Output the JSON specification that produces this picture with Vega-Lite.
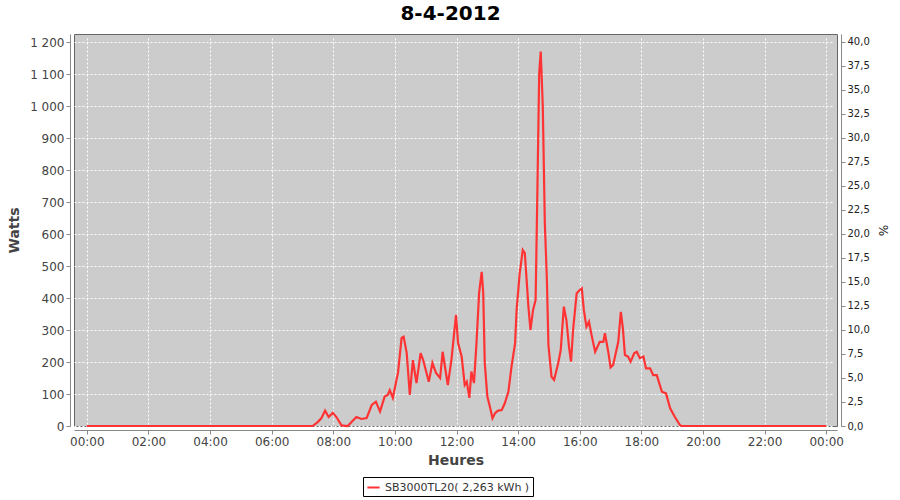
{
  "$schema": "https://vega.github.io/schema/vega-lite/v6.json",
  "autosize": {"type": "none"},
  "width": 763,
  "height": 392,
  "padding": {"left": 74, "top": 34, "right": 63, "bottom": 74},
  "background": "white",
  "title": {
    "text": "8-4-2012",
    "font": "DejaVu Sans",
    "fontSize": 20,
    "fontWeight": "bold",
    "color": "#000000",
    "anchor": "middle",
    "offset": 10,
    "dx": -5
  },
  "config": {
    "font": "DejaVu Sans",
    "view": {"fill": "#CCCCCC", "stroke": "#666666", "strokeWidth": 1},
    "axis": {
      "labelFont": "DejaVu Sans",
      "labelFontSize": 12,
      "labelColor": "#444444",
      "titleFont": "DejaVu Sans",
      "titleFontSize": 14,
      "titleFontWeight": "bold",
      "titleColor": "#444444",
      "domainColor": "#888888",
      "tickColor": "#888888",
      "tickSize": 4,
      "labelPadding": 2,
      "gridColor": "#FFFFFF",
      "gridDash": [2, 2],
      "gridWidth": 1,
      "offset": 4
    }
  },
  "layer": [
    {
      "data": {
        "values": [
          {"m": 0, "w": 0}, {"m": 440, "w": 0}, {"m": 450, "w": 13}, {"m": 457, "w": 25},
          {"m": 464, "w": 48}, {"m": 471, "w": 28}, {"m": 479, "w": 41}, {"m": 486, "w": 28},
          {"m": 496, "w": 2}, {"m": 508, "w": 0}, {"m": 516, "w": 13}, {"m": 525, "w": 28},
          {"m": 535, "w": 22}, {"m": 545, "w": 25}, {"m": 555, "w": 66}, {"m": 563, "w": 76},
          {"m": 571, "w": 45}, {"m": 580, "w": 92}, {"m": 586, "w": 97}, {"m": 590, "w": 112},
          {"m": 596, "w": 88}, {"m": 603, "w": 144}, {"m": 606, "w": 166}, {"m": 613, "w": 275},
          {"m": 617, "w": 279}, {"m": 623, "w": 228}, {"m": 629, "w": 97}, {"m": 635, "w": 206},
          {"m": 642, "w": 134}, {"m": 650, "w": 228}, {"m": 655, "w": 206}, {"m": 666, "w": 138},
          {"m": 673, "w": 197}, {"m": 680, "w": 166}, {"m": 688, "w": 150}, {"m": 693, "w": 232},
          {"m": 703, "w": 128}, {"m": 710, "w": 206}, {"m": 719, "w": 347}, {"m": 723, "w": 259},
          {"m": 730, "w": 217}, {"m": 736, "w": 128}, {"m": 740, "w": 138}, {"m": 745, "w": 88},
          {"m": 749, "w": 170}, {"m": 754, "w": 134}, {"m": 759, "w": 263}, {"m": 764, "w": 416},
          {"m": 769, "w": 482}, {"m": 772, "w": 416}, {"m": 775, "w": 197}, {"m": 780, "w": 92},
          {"m": 785, "w": 60}, {"m": 790, "w": 24}, {"m": 795, "w": 40}, {"m": 801, "w": 48},
          {"m": 808, "w": 50}, {"m": 814, "w": 71}, {"m": 821, "w": 107}, {"m": 827, "w": 185},
          {"m": 834, "w": 258}, {"m": 837, "w": 362}, {"m": 843, "w": 477}, {"m": 849, "w": 550},
          {"m": 853, "w": 540}, {"m": 860, "w": 373}, {"m": 864, "w": 300}, {"m": 869, "w": 362},
          {"m": 874, "w": 394}, {"m": 877, "w": 685}, {"m": 881, "w": 1102}, {"m": 884, "w": 1170},
          {"m": 888, "w": 998}, {"m": 892, "w": 633}, {"m": 896, "w": 456}, {"m": 899, "w": 253},
          {"m": 905, "w": 154}, {"m": 910, "w": 144}, {"m": 918, "w": 196}, {"m": 923, "w": 238},
          {"m": 929, "w": 373}, {"m": 934, "w": 331}, {"m": 939, "w": 248}, {"m": 943, "w": 201},
          {"m": 947, "w": 300}, {"m": 954, "w": 415}, {"m": 960, "w": 425}, {"m": 964, "w": 430},
          {"m": 968, "w": 362}, {"m": 973, "w": 310}, {"m": 978, "w": 326}, {"m": 983, "w": 284},
          {"m": 990, "w": 232}, {"m": 999, "w": 263}, {"m": 1006, "w": 263}, {"m": 1009, "w": 290},
          {"m": 1016, "w": 227}, {"m": 1020, "w": 183}, {"m": 1025, "w": 191}, {"m": 1035, "w": 263},
          {"m": 1040, "w": 357}, {"m": 1044, "w": 305}, {"m": 1048, "w": 222}, {"m": 1054, "w": 217},
          {"m": 1059, "w": 201}, {"m": 1066, "w": 227}, {"m": 1071, "w": 232}, {"m": 1077, "w": 212},
          {"m": 1084, "w": 217}, {"m": 1089, "w": 180}, {"m": 1097, "w": 180}, {"m": 1103, "w": 159},
          {"m": 1110, "w": 159}, {"m": 1120, "w": 107}, {"m": 1128, "w": 102}, {"m": 1136, "w": 55},
          {"m": 1145, "w": 29}, {"m": 1155, "w": 3}, {"m": 1158, "w": 0}, {"m": 1440, "w": 0}
        ]
      },
      "mark": {"type": "line", "strokeWidth": 2.2},
      "encoding": {
        "x": {
          "field": "m",
          "type": "quantitative",
          "title": "Heures",
          "scale": {"domain": [-25, 1461], "nice": false, "zero": false},
          "axis": {
            "values": [0, 120, 240, 360, 480, 600, 720, 840, 960, 1080, 1200, 1320, 1440],
            "labelExpr": "(floor(datum.value / 60) % 24 < 10 ? '0' : '') + (floor(datum.value / 60) % 24) + ':00'",
            "labelFlush": false,
            "labelOverlap": false,
            "titlePadding": 6
          }
        },
        "y": {
          "field": "w",
          "type": "quantitative",
          "title": "Watts",
          "scale": {"domain": [0, 1225], "nice": false},
          "axis": {
            "values": [0, 100, 200, 300, 400, 500, 600, 700, 800, 900, 1000, 1100, 1200],
            "labelExpr": "datum.value >= 1000 ? floor(datum.value / 1000) + ' ' + (datum.value % 1000 < 100 ? '0' : '') + (datum.value % 1000 < 10 ? '0' : '') + (datum.value % 1000) : '' + datum.value",
            "titlePadding": 8
          }
        },
        "color": {
          "datum": "SB3000TL20( 2,263 kWh )",
          "type": "nominal",
          "scale": {"range": ["#FF3333"]},
          "legend": {
            "title": null,
            "orient": "none",
            "legendX": 289,
            "legendY": 443,
            "symbolType": "stroke",
            "symbolStrokeWidth": 2,
            "symbolSize": 150,
            "labelFont": "DejaVu Sans",
            "labelFontSize": 11,
            "labelColor": "#333333",
            "strokeColor": "#000000",
            "fillColor": "#FFFFFF",
            "padding": 3
          }
        }
      }
    },
    {
      "data": {"values": [{"p": 0}, {"p": 40}]},
      "mark": {"type": "point", "opacity": 0},
      "encoding": {
        "y": {
          "field": "p",
          "type": "quantitative",
          "title": "%",
          "scale": {"domain": [0, 40.8333], "nice": false},
          "axis": {
            "orient": "right",
            "grid": false,
            "values": [0, 2.5, 5, 7.5, 10, 12.5, 15, 17.5, 20, 22.5, 25, 27.5, 30, 32.5, 35, 37.5, 40],
            "labelExpr": "floor(datum.value) + ',' + (datum.value % 1 > 0 ? '5' : '0')",
            "labelFontSize": 10,
            "labelColor": "#222222",
            "titleFontSize": 12,
            "titleFontWeight": "normal",
            "titleColor": "#222222",
            "titlePadding": 6
          }
        }
      }
    }
  ],
  "resolve": {"scale": {"y": "independent"}}
}
